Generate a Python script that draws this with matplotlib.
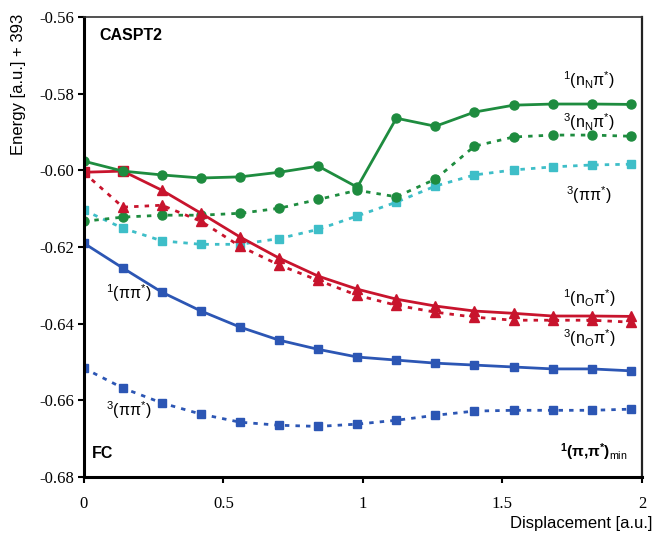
import numpy as np
import matplotlib
matplotlib.use('Agg')
import matplotlib.pyplot as plt

plt.rcParams['mathtext.fontset'] = 'custom'
plt.rcParams['mathtext.rm'] = 'Liberation Sans'
plt.rcParams['mathtext.it'] = 'Liberation Sans:italic'
plt.rcParams['mathtext.bf'] = 'Liberation Sans:bold'

# displacement grid
disp = [0.0, 0.14, 0.28, 0.42, 0.56, 0.70, 0.84, 0.98, 1.12, 1.26, 1.40, 1.54, 1.68, 1.82, 1.96]

# energies (a.u. + 393)
nN_singlet = [-0.5976, -0.6002, -0.6012, -0.6020, -0.6017, -0.6005, -0.5989, -0.6044,
              -0.5864, -0.5885, -0.5848, -0.5830, -0.5827, -0.5827, -0.5828]
nN_triplet = [-0.6133, -0.6122, -0.6117, -0.6117, -0.6112, -0.6099, -0.6076, -0.6052,
              -0.6069, -0.6023, -0.5937, -0.5913, -0.5908, -0.5908, -0.5911]
pp_triplet_hi = [-0.6104, -0.6151, -0.6184, -0.6193, -0.6193, -0.6178, -0.6154, -0.6119,
                 -0.6083, -0.6041, -0.6012, -0.5999, -0.5991, -0.5986, -0.5984]
nO_singlet = [-0.6005, -0.6002, -0.6052, -0.6112, -0.6174, -0.6229, -0.6276, -0.6310,
              -0.6336, -0.6354, -0.6367, -0.6373, -0.6380, -0.6380, -0.6381]
nO_triplet = [-0.6006, -0.6096, -0.6091, -0.6133, -0.6198, -0.6247, -0.6287, -0.6326,
              -0.6352, -0.6370, -0.6383, -0.6391, -0.6391, -0.6391, -0.6396]
pp_singlet = [-0.6190, -0.6255, -0.6318, -0.6367, -0.6409, -0.6443, -0.6467, -0.6487,
              -0.6495, -0.6503, -0.6508, -0.6513, -0.6518, -0.6518, -0.6523]
pp_triplet = [-0.6516, -0.6568, -0.6607, -0.6636, -0.6657, -0.6665, -0.6668, -0.6662,
              -0.6652, -0.6639, -0.6628, -0.6626, -0.6626, -0.6626, -0.6623]

green = '#1e8c3f'
red = '#c8142d'
blue = '#2c56b4'
cyan = '#3ebec8'
dots = (0, (1.6, 2.2))

fig = plt.figure(figsize=(6.55, 5.35), dpi=100)
ax = fig.add_axes([0.128, 0.1084, 0.852, 0.8598])

x = np.array(disp)

# dotted (triplet) curves first
ax.plot(x, pp_triplet_hi, color=cyan, ls=dots, lw=2, marker='s', ms=6, mec=cyan)
ax.plot(x, nN_triplet, color=green, ls=dots, lw=2, marker='o', ms=6.5)
ax.plot(x, nO_triplet, color=red, ls=dots, lw=2)
ax.plot(x[1:], nO_triplet[1:], color=red, ls='none', marker='^', ms=6.5)
ax.plot(x, pp_triplet, color=blue, ls=dots, lw=2, marker='s', ms=6)

# solid (singlet) curves
ax.plot(x, pp_singlet, color=blue, lw=2, marker='s', ms=6)
ax.plot(x, nO_singlet, color=red, lw=2)
ax.plot(x[2:], nO_singlet[2:], color=red, ls='none', marker='^', ms=6.5)
ax.plot(x[:2], nO_singlet[:2], color=red, ls='none', marker='s', ms=6.5)
ax.plot(x, nN_singlet, color=green, lw=2, marker='o', ms=6.5)

ax.set_xlim(0, 2)
ax.set_ylim(-0.68, -0.56)
ax.set_xticks([0, 0.5, 1, 1.5, 2])
ax.set_xticklabels(['0', '0.5', '1', '1.5', '2'])
yt = [-0.68, -0.66, -0.64, -0.62, -0.60, -0.58, -0.56]
ax.set_yticks(yt)
ax.set_yticklabels(['%.2f' % v for v in yt])
for lab in ax.get_xticklabels() + ax.get_yticklabels():
    lab.set_fontfamily('Liberation Serif')
    lab.set_fontsize(12)
ax.tick_params(axis='y', direction='out', length=4, width=1.5, pad=3)
ax.tick_params(axis='x', direction='out', length=4, width=1.5, pad=10)

ax.spines['left'].set_linewidth(2.2)
ax.spines['bottom'].set_linewidth(2.2)
ax.spines['top'].set_linewidth(1.2)
ax.spines['right'].set_linewidth(1.6)
ax.spines['top'].set_color('#333333')
ax.spines['right'].set_color('#222222')

fig.text(0.028, 0.843, 'Energy [a.u.] + 393', rotation=90, ha='center', va='center',
         family='Liberation Sans', fontsize=12)
fig.text(0.996, 0.021, 'Displacement [a.u.]', ha='right', va='center',
         family='Liberation Sans', fontsize=12)

sans = dict(family='Liberation Sans', fontsize=11.5)
ax.text(0.055, -0.5649, 'CASPT2', fontweight='bold', va='center', **sans)
ax.text(0.03, -0.6739, 'FC', fontweight='bold', va='center', **sans)
ax.text(1.95, -0.6735, r'$^{\mathbf{1}}$($\mathbf{\pi}$,$\mathbf{\pi}^{\mathbf{*}}$)$_{\rm min}$',
        fontweight='bold', ha='right', va='center', family='Liberation Sans', fontsize=11)

ax.text(1.81, -0.5764, r'$^{1}$(n$_{\rm N}$π$^{*}$)', ha='center', va='center', **sans)
ax.text(1.81, -0.5874, r'$^{3}$(n$_{\rm N}$π$^{*}$)', ha='center', va='center', **sans)
ax.text(1.81, -0.6065, r'$^{3}$(ππ$^{*}$)', ha='center', va='center', **sans)
ax.text(1.81, -0.6334, r'$^{1}$(n$_{\rm O}$π$^{*}$)', ha='center', va='center', **sans)
ax.text(1.81, -0.6438, r'$^{3}$(n$_{\rm O}$π$^{*}$)', ha='center', va='center', **sans)
ax.text(0.16, -0.6320, r'$^{1}$(ππ$^{*}$)', ha='center', va='center', **sans)
ax.text(0.16, -0.6626, r'$^{3}$(ππ$^{*}$)', ha='center', va='center', **sans)

fig.savefig('out.png', dpi=100)
